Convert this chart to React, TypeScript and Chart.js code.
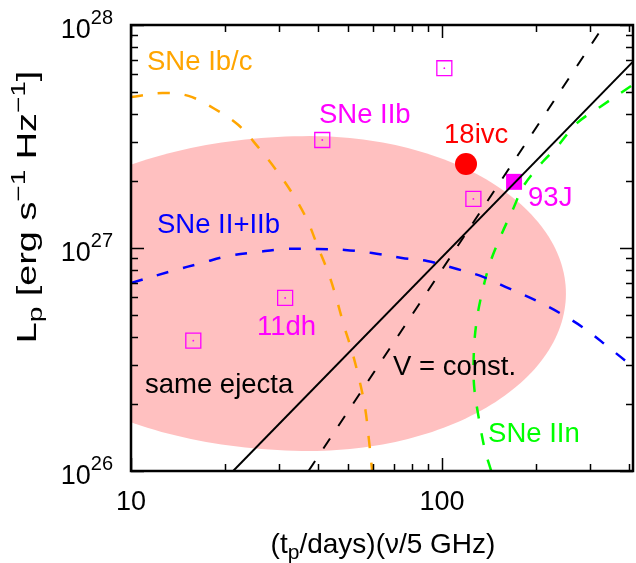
import React, { useEffect, useRef } from 'react';
import { Chart, registerables } from 'chart.js';

Chart.register(...registerables);

const FONT = '"Liberation Sans", Arial, Helvetica, sans-serif';

// ---- axes ----
const xMin = 10;
const xMax = 411;
const yMin = 1e26;
const yMax = 1e28;
const xMajorTicks = [10, 100];
const xTickLabels = ['10', '100'];
const xMinorTicks = [20, 30, 40, 50, 60, 70, 80, 90, 200, 300, 400];
const yMajorTicks = [1e26, 1e27, 1e28];
const yTickBase = ['10', '10', '10'];
const yTickExp = ['26', '27', '28'];
const yMinorTicks = [2e26, 3e26, 4e26, 5e26, 6e26, 7e26, 8e26, 9e26, 2e27, 3e27, 4e27, 5e27, 6e27, 7e27, 8e27, 9e27];

// ---- SNe Ib/c (orange dashed) ----
const ibcX = [10, 12.6, 15.3, 18.6, 22.1, 25.6, 29.0, 32.9, 36.8, 39.9, 43.0, 45.6, 48.4, 51.4, 54.1, 56.5, 58.2, 59.6];
const ibcY = [4.75e27, 4.95e27, 4.81e27, 4.2e27, 3.57e27, 2.84e27, 2.28e27, 1.77e27, 1.34e27, 1.01e27, 7.8e26, 6.03e26, 4.47e26, 3.42e26, 2.59e26, 1.94e26, 1.38e26, 1.0e26];

// ---- SNe II+IIb (blue dashed) ----
const iiX = [10, 13.55, 16.9, 20.5, 25.6, 31.3, 39.9, 48.7, 59.6, 74.3, 89.5, 111.7, 135.5, 165.5, 202, 239, 288, 342, 411];
const iiY = [6.97e26, 7.89e26, 8.57e26, 9.21e26, 9.6e26, 9.9e26, 9.9e26, 9.8e26, 9.5e26, 9.02e26, 8.75e26, 8.05e26, 7.42e26, 6.55e26, 5.78e26, 5.11e26, 4.34e26, 3.6e26, 2.93e26];

// ---- SNe IIn (green dashed) ----
const iinX = [143.9, 137.4, 131.6, 126.7, 126.7, 129.6, 134.6, 142.6, 154.8, 170.4, 182, 206.5, 234, 272, 322, 411];
const iinY = [1e26, 1.24e26, 1.69e26, 2.43e26, 3.56e26, 4.86e26, 6.35e26, 8.57e26, 1.14e27, 1.53e27, 1.88e27, 2.36e27, 2.84e27, 3.64e27, 4.29e27, 5.4e27];

// ---- same ejecta (solid black) / V = const. (dashed black) ----
const sameEjectaX = [21.3, 411];
const sameEjectaY = [1e26, 6.85e27];
const vConstX = [37.2, 332];
const vConstY = [1e26, 1e28];

// ---- observed SNe IIb (open magenta squares) ----
const iibX = [15.86, 31.3, 41.2, 101.7, 126.1];
const iibY = [3.84e26, 5.97e26, 3.05e27, 6.4e27, 1.66e27];
// ---- 93J (filled magenta square) ----
const sn93jX = [170.4];
const sn93jY = [1.98e27];
// ---- 18ivc (red circle) ----
const sn18ivcX = [119.4];
const sn18ivcY = [2.38e27];

// ---- shaded "same ejecta" region (ellipse in log-log space) ----
const regionCenter = [37.6, 6.25e26];
const regionHalfWidthLeftDex = 1.0;
const regionHalfWidthRightDex = 0.823;
const regionHalfHeightDex = 0.706;

// ---- text labels: text, x, y (data coords of left/baseline), colour ----
const labelTexts = ['SNe Ib/c', 'SNe IIb', '18ivc', '93J', 'SNe II+IIb', '11dh', 'same ejecta', 'V = const.', 'SNe IIn'];
const labelX = [11.26, 40.2, 101.5, 189, 12.12, 25.4, 11.09, 69.6, 140.6];
const labelY = [6.28e27, 3.64e27, 2.96e27, 1.54e27, 1.17e27, 4.07e26, 2.24e26, 2.69e26, 1.35e26];
const labelColors = ['#ffa500', '#ff00ff', '#ff0000', '#ff00ff', '#0000ff', '#ff00ff', '#000000', '#000000', '#00ff00'];

const xy = (xs: number[], ys: number[]) => xs.map((x, i) => ({ x, y: ys[i] }));

type Piece = { t: string; s: number; dy?: number };

function drawRich(ctx: CanvasRenderingContext2D, pieces: Piece[], x: number, y: number, align: 'left' | 'center' | 'right') {
  let total = 0;
  const widths = pieces.map((p) => {
    ctx.font = `${p.s}px ${FONT}`;
    const w = ctx.measureText(p.t).width;
    total += w;
    return w;
  });
  let cx = align === 'left' ? x : align === 'center' ? x - total / 2 : x - total;
  ctx.textAlign = 'left';
  ctx.textBaseline = 'alphabetic';
  pieces.forEach((p, i) => {
    ctx.font = `${p.s}px ${FONT}`;
    ctx.fillText(p.t, cx, y + (p.dy || 0));
    cx += widths[i];
  });
  return total;
}

const regionPlugin = {
  id: 'regionPlugin',
  beforeDatasetsDraw(chart: any) {
    const { ctx, chartArea, scales } = chart;
    const xs = scales.x;
    const ys = scales.y;
    const lcx = Math.log10(regionCenter[0]);
    const lcy = Math.log10(regionCenter[1]);
    ctx.save();
    ctx.beginPath();
    ctx.rect(chartArea.left, chartArea.top, chartArea.right - chartArea.left, chartArea.bottom - chartArea.top);
    ctx.clip();
    ctx.beginPath();
    const n = 240;
    for (let i = 0; i <= n; i++) {
      const t = (i / n) * Math.PI * 2;
      const c = Math.cos(t);
      const a = c >= 0 ? regionHalfWidthRightDex : regionHalfWidthLeftDex;
      const lx = lcx + a * c;
      const ly = lcy + regionHalfHeightDex * Math.sin(t);
      const px = xs.getPixelForValue(Math.pow(10, lx));
      const py = ys.getPixelForValue(Math.pow(10, ly));
      if (i === 0) ctx.moveTo(px, py);
      else ctx.lineTo(px, py);
    }
    ctx.closePath();
    ctx.fillStyle = '#ffc0c0';
    ctx.fill();
    ctx.restore();
  },
};

const framePlugin = {
  id: 'framePlugin',
  afterDraw(chart: any) {
    const { ctx, chartArea, scales } = chart;
    const xs = scales.x;
    const ys = scales.y;
    const { left, right, top, bottom } = chartArea;
    ctx.save();
    ctx.strokeStyle = '#000';
    ctx.lineWidth = 1.5;
    const major = 13;
    const minor = 7;
    ctx.beginPath();
    const xt = (v: number, len: number) => {
      const p = Math.round(xs.getPixelForValue(v)) + 0.5;
      ctx.moveTo(p, bottom);
      ctx.lineTo(p, bottom - len);
      ctx.moveTo(p, top);
      ctx.lineTo(p, top + len);
    };
    const yt = (v: number, len: number) => {
      const p = Math.round(ys.getPixelForValue(v)) + 0.5;
      ctx.moveTo(left, p);
      ctx.lineTo(left + len, p);
      ctx.moveTo(right, p);
      ctx.lineTo(right - len, p);
    };
    xMajorTicks.forEach((v) => xt(v, major));
    xMinorTicks.forEach((v) => xt(v, minor));
    yMajorTicks.forEach((v) => yt(v, major));
    yMinorTicks.forEach((v) => yt(v, minor));
    ctx.stroke();
    ctx.lineWidth = 2.5;
    ctx.strokeRect(left, top, right - left, bottom - top);

    ctx.fillStyle = '#000';
    // x tick labels
    xMajorTicks.forEach((v, i) => {
      drawRich(ctx, [{ t: xTickLabels[i], s: 27 }], xs.getPixelForValue(v), bottom + 39, 'center');
    });
    // y tick labels
    yMajorTicks.forEach((v, i) => {
      const p = ys.getPixelForValue(v);
      drawRich(ctx, [{ t: yTickBase[i], s: 27 }, { t: yTickExp[i], s: 20, dy: -14 }], left - 18, p + 13, 'right');
    });
    // x title
    drawRich(
      ctx,
      [{ t: '(t', s: 28 }, { t: 'p', s: 21, dy: 6 }, { t: '/days)(\u03bd/5 GHz)', s: 28 }],
      (left + right) / 2 + 1,
      553,
      'center'
    );
    // y title
    ctx.save();
    ctx.translate(36, 207);
    ctx.rotate(-Math.PI / 2);
    ctx.scale(1.4, 1);
    drawRich(
      ctx,
      [
        { t: 'L', s: 27 },
        { t: 'p', s: 20, dy: 6 },
        { t: ' [erg s', s: 27 },
        { t: '\u22121', s: 20, dy: -11 },
        { t: ' Hz', s: 27 },
        { t: '\u22121', s: 20, dy: -11 },
        { t: ']', s: 27 },
      ],
      0,
      0,
      'center'
    );
    ctx.restore();

    // annotation labels
    labelTexts.forEach((t, i) => {
      ctx.fillStyle = labelColors[i];
      drawRich(ctx, [{ t, s: 27.5 }], xs.getPixelForValue(labelX[i]), ys.getPixelForValue(labelY[i]), 'left');
    });
    ctx.restore();
  },
};

export default function App() {
  const ref = useRef<HTMLCanvasElement | null>(null);
  useEffect(() => {
    document.body.style.margin = '0';
    const canvas = ref.current;
    if (!canvas) return;
    const dash = [12, 15];
    const chart = new Chart(canvas, {
      type: 'line',
      data: {
        datasets: [
          {
            label: 'SNe Ib/c',
            data: xy(ibcX, ibcY),
            borderColor: '#ffa500',
            borderWidth: 2.5,
            borderDash: dash,
            pointRadius: 0,
            tension: 0.35,
            fill: false,
          },
          {
            label: 'SNe II+IIb',
            data: xy(iiX, iiY),
            borderColor: '#0000ff',
            borderWidth: 2.5,
            borderDash: dash,
            pointRadius: 0,
            tension: 0.35,
            fill: false,
          },
          {
            label: 'SNe IIn',
            data: xy(iinX, iinY),
            borderColor: '#00ff00',
            borderWidth: 2.5,
            borderDash: dash,
            pointRadius: 0,
            tension: 0.35,
            fill: false,
          },
          {
            label: 'same ejecta',
            data: xy(sameEjectaX, sameEjectaY),
            borderColor: '#000000',
            borderWidth: 2,
            pointRadius: 0,
            tension: 0,
            fill: false,
          },
          {
            label: 'V = const.',
            data: xy(vConstX, vConstY),
            borderColor: '#000000',
            borderWidth: 2,
            borderDash: dash,
            pointRadius: 0,
            tension: 0,
            fill: false,
          },
          {
            label: 'SNe IIb',
            data: xy(iibX, iibY),
            showLine: false,
            pointStyle: 'rect',
            pointRadius: 10.6,
            pointBorderWidth: 1.3,
            pointBorderColor: '#ff00ff',
            pointBackgroundColor: 'rgba(0,0,0,0)',
            borderColor: '#ff00ff',
          },
          {
            label: 'SNe IIb centres',
            data: xy(iibX, iibY),
            showLine: false,
            pointStyle: 'circle',
            pointRadius: 0.9,
            pointBorderWidth: 0,
            pointBackgroundColor: '#ff00ff',
          },
          {
            label: '93J',
            data: xy(sn93jX, sn93jY),
            showLine: false,
            pointStyle: 'rect',
            pointRadius: 11.3,
            pointBorderWidth: 0,
            pointBackgroundColor: '#ff00ff',
          },
          {
            label: '18ivc',
            data: xy(sn18ivcX, sn18ivcY),
            showLine: false,
            pointStyle: 'circle',
            pointRadius: 11,
            pointBorderWidth: 0,
            pointBackgroundColor: '#ff0000',
          },
        ],
      },
      options: {
        animation: false,
        responsive: false,
        maintainAspectRatio: false,
        layout: { autoPadding: false, padding: { left: 131, right: 3, top: 25, bottom: 92 } },
        plugins: { legend: { display: false }, tooltip: { enabled: false } },
        scales: {
          x: { type: 'logarithmic', min: xMin, max: xMax, display: false },
          y: { type: 'logarithmic', min: yMin, max: yMax, display: false },
        },
      },
      plugins: [regionPlugin, framePlugin],
    } as any);
    return () => chart.destroy();
  }, []);
  return <canvas ref={ref} width={636} height={563} style={{ display: 'block' }} />;
}
